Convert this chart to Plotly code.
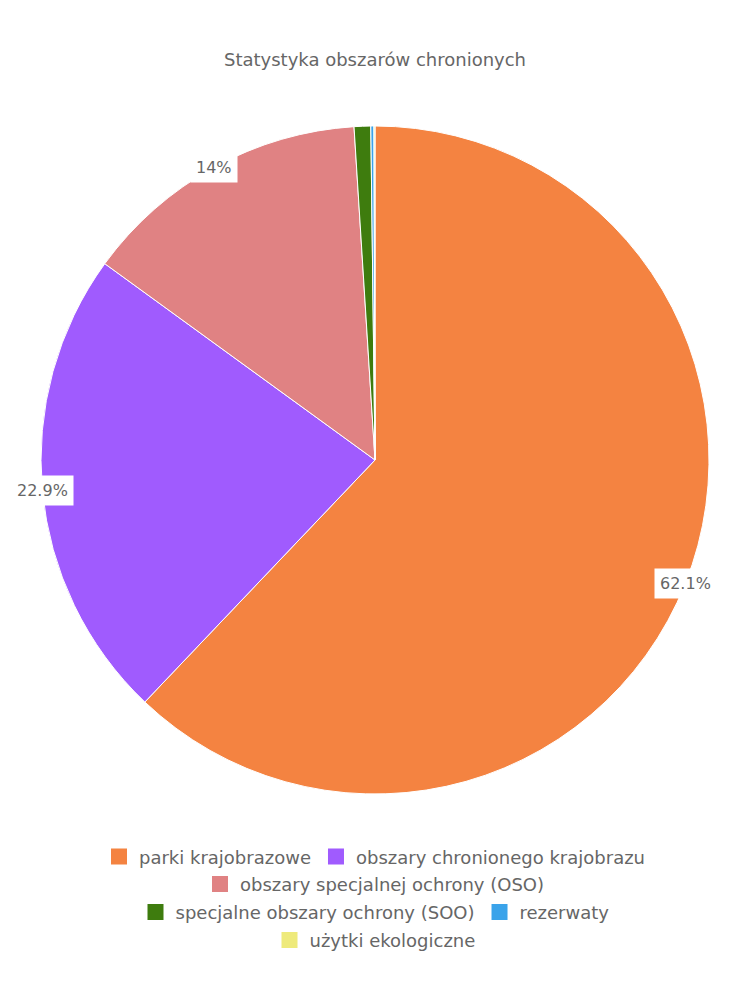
import math
import plotly.graph_objects as go

labels = ["parki krajobrazowe", "obszary chronionego krajobrazu",
          "obszary specjalnej ochrony (OSO)", "specjalne obszary ochrony (SOO)",
          "rezerwaty", "użytki ekologiczne"]
values = [62.1, 22.9, 14.0, 0.8, 0.15, 0.05]
colors = ["#F48341", "#A05BFE", "#E08283", "#3E7C0E", "#3AA3EA", "#EEEA7B"]
legend_rows = [[0, 1], [2], [3, 4], [5]]

FONT = "DejaVu Sans"
GREY = "#666666"

fig = go.Figure()
fig.add_trace(go.Pie(
    labels=labels, values=values, sort=False, direction="clockwise", rotation=0,
    marker=dict(colors=colors, line=dict(color="white", width=1)),
    textinfo="none", hoverinfo="label+percent", showlegend=False,
    domain=dict(x=[0, 1], y=[0, 1]),
))

# labels on the rim for larger slices
total = sum(values)
cum = 0.0
annotations = []
for v in values:
    pct = v / total * 100
    mid = (cum + v / 2) / total * 2 * math.pi
    cum += v
    if pct < 5:
        continue
    annotations.append(dict(
        x=0.5 + 0.5 * math.sin(mid), y=0.5 + 0.5 * math.cos(mid),
        xref="paper", yref="paper", showarrow=False,
        text=f"{round(pct, 1):g}%", font=dict(family=FONT, size=16, color=GREY),
        bgcolor="white", borderpad=5, xanchor="center", yanchor="middle",
    ))

# legend entries split into centred rows
row_y = [-0.094, -0.135, -0.177, -0.219]
legend_layout = {}
for r, idxs in enumerate(legend_rows):
    lname = "legend" if r == 0 else f"legend{r + 1}"
    for i in idxs:
        fig.add_trace(go.Scatter(
            x=[None], y=[None], mode="markers", name=labels[i],
            marker=dict(symbol="square", size=17, color=colors[i]),
            legend=lname, showlegend=True, hoverinfo="skip",
        ))
    legend_layout[lname] = dict(
        orientation="h", x=0.5, xanchor="center", y=row_y[r], yanchor="middle",
        font=dict(family=FONT, size=18, color=GREY), bgcolor="rgba(0,0,0,0)",
        itemclick=False, itemdoubleclick=False,
    )

fig.update_layout(
    width=750, height=1000,
    margin=dict(l=41, r=41, t=126, b=206),
    paper_bgcolor="white", plot_bgcolor="white",
    title=dict(text="Statystyka obszarów chronionych", x=0.5, xanchor="center",
               y=0.94, yanchor="middle",
               font=dict(family=FONT, size=18, color=GREY)),
    xaxis=dict(visible=False), yaxis=dict(visible=False),
    annotations=annotations,
    **legend_layout,
)

fig.write_html("out.html")
